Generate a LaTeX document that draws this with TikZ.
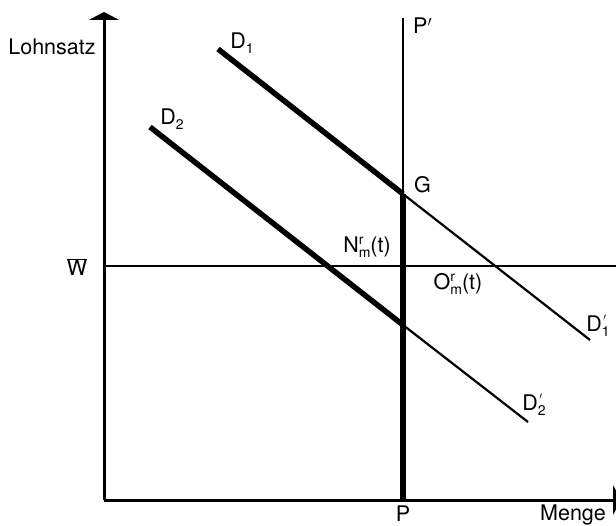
\documentclass[tikz,border=0pt]{standalone}
\usepackage{fontspec}
\setmainfont{TeX Gyre Heros}
\usepackage{tikz}
\usetikzlibrary{arrows.meta}
\newcommand{\stk}[2]{\makebox[0pt][l]{\raisebox{0.75ex}{\fontsize{14}{14}\selectfont #1}}\raisebox{-0.45ex}{\fontsize{14}{14}\selectfont #2}}
\newcommand{\prm}{\hspace{1.5pt}\raisebox{0.3ex}{$\scriptstyle\prime$}}

\begin{document}
\begin{tikzpicture}[x=1pt,y=-1pt,>={Triangle[width=30pt,length=8pt]},
  lbl/.style={font=\fontsize{21.5}{23}\selectfont,inner sep=0pt},
  axis/.style={line width=3pt},
  thin/.style={line width=2.2pt},
  fat/.style={line width=5.5pt}]
\useasboundingbox (0,0) rectangle (616,526);
% points
\coordinate (O) at (104,500);
\coordinate (ytop) at (104,12);
\coordinate (xend) at (621,500);
\coordinate (Ptop) at (403,18);
\coordinate (Pbot) at (403,500);
\coordinate (G) at (403,194);
\coordinate (D1s) at (218,49);
\coordinate (D1e) at (590,340);
\coordinate (D2s) at (150,127);
\coordinate (D2m) at (403,325);
\coordinate (D2e) at (528,422);
\coordinate (Wl) at (104,266);
\coordinate (Wr) at (616,266);
% axes
\draw[axis,->] (O) -- (ytop);
\draw[axis,->] (O) -- (xend);
\draw[line width=2.6pt] (Wl) -- (Wr);
\draw[line width=2.8pt] (Ptop) -- (G);
\draw[fat] (G) -- (Pbot);
% demand curves
\draw[fat] (D1s) -- (G);
\draw[thin] (G) -- (D1e);
\draw[fat] (D2s) -- (D2m);
\draw[thin] (D2m) -- (D2e);
% labels
\node[lbl] (lohn) at (52,47) {Lohnsatz};
\node[lbl] (menge) at (573,515) {Menge};
\node[lbl] (wbar) at (77,267) {$\overline{\mbox{W}}$};
\node[lbl] (pl) at (403,514) {P};
\node[lbl,anchor=west] (pp) at (413,26) {P$^\prime$};
\node[lbl,anchor=west] (gl) at (414,185) {G};
\node[lbl] (d1) at (242,43) {D\stk{}{1}};
\node[lbl] (d2) at (172,119) {D\stk{}{2}};
\node[lbl] (d1p) at (598,326) {D\stk{\prm}{1}};
\node[lbl] (d2p) at (534,405) {D\stk{\prm}{2}};
\node[lbl] (nm) at (367,247) {N\stk{r}{m}(t)};
\node[lbl] (om) at (458,284) {O\stk{r}{m}(t)};
\end{tikzpicture}
\end{document}
